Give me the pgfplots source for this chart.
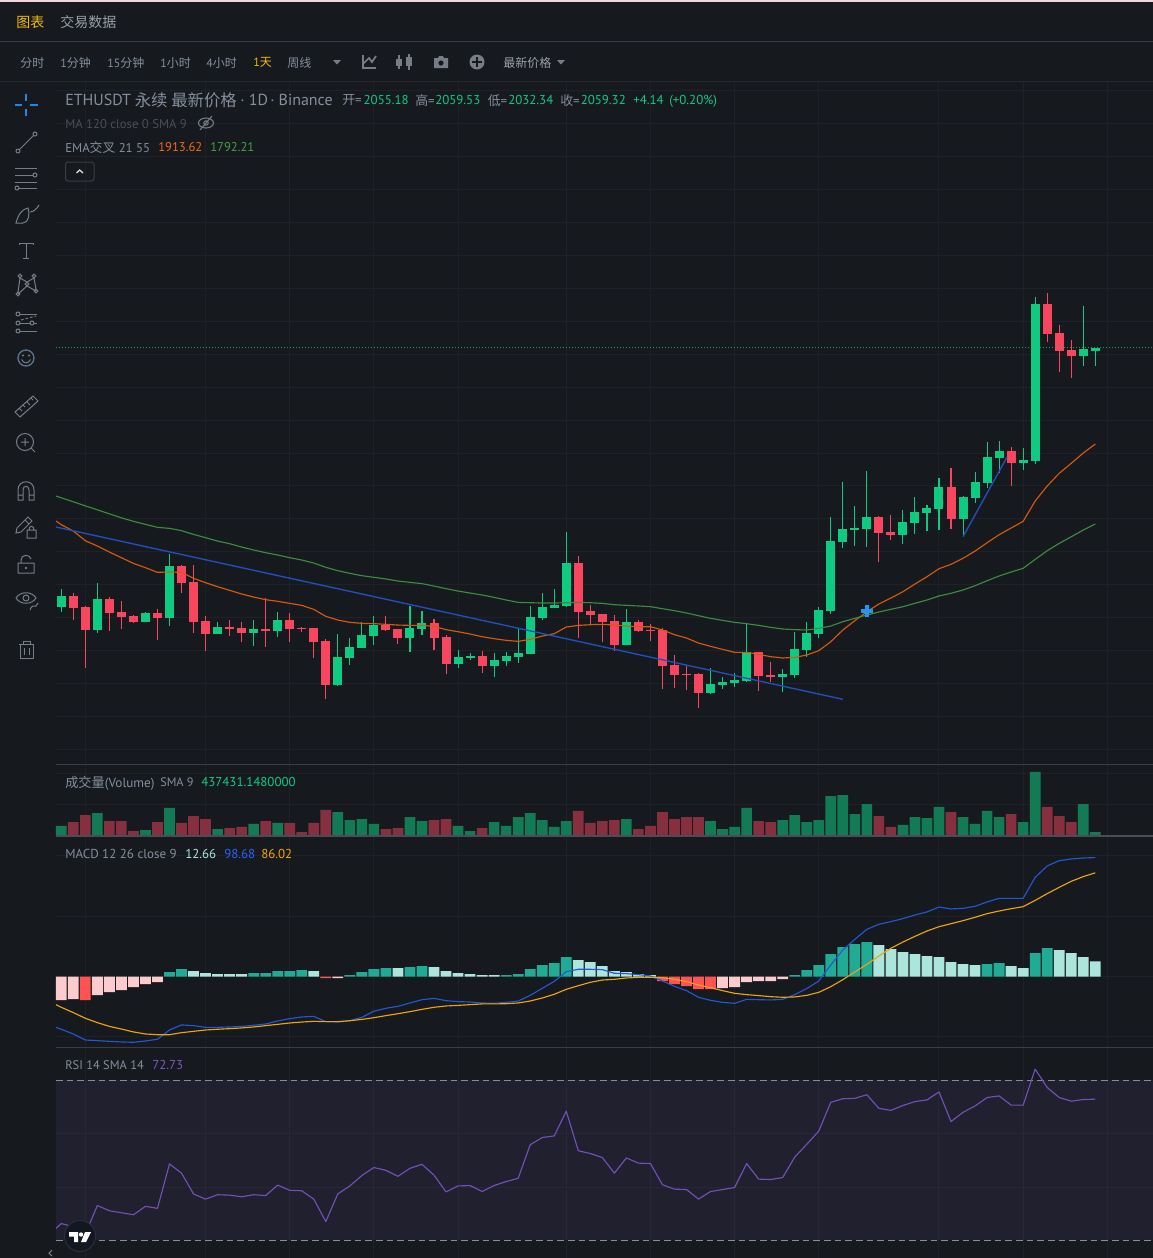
\documentclass[border=0pt]{standalone}
\usepackage{fontspec}
\usepackage{pgfplots}
\usepackage{pgfplotstable}
\pgfplotsset{compat=1.18}
\setmainfont{PT Sans}
\newfontfamily\cjk{Noto Sans CJK SC}
\definecolor{bg}{HTML}{161A1E}
\definecolor{gridc}{HTML}{1E2228}
\definecolor{sepc}{HTML}{3A3E44}
\definecolor{upc}{HTML}{0ECB81}
\definecolor{dnc}{HTML}{F9465F}
\definecolor{volup}{HTML}{137A56}
\definecolor{voldn}{HTML}{86303F}
\definecolor{histA}{HTML}{22AB94}
\definecolor{histB}{HTML}{ACE5DC}
\definecolor{histC}{HTML}{FF5252}
\definecolor{histD}{HTML}{FCCBCD}
\definecolor{emaO}{HTML}{D9590B}
\definecolor{emaG}{HTML}{3C8B3F}
\definecolor{trend}{HTML}{2150BE}
\definecolor{macdB}{HTML}{2257D6}
\definecolor{macdO}{HTML}{EFA30C}
\definecolor{rsiP}{HTML}{7350B8}
\definecolor{rsiB}{HTML}{7E57C2}
\definecolor{txt}{HTML}{848E9C}
\definecolor{txtB}{HTML}{9AA0A8}
\definecolor{yel}{HTML}{F0B90B}
\definecolor{icon}{HTML}{787C84}
\definecolor{pinkt}{HTML}{F5D3DA}
\definecolor{sepd}{HTML}{23272D}
\definecolor{sepb}{HTML}{4A4E54}
\definecolor{dimt}{HTML}{4A4E55}
\definecolor{ora}{HTML}{F26A1B}
\definecolor{grn}{HTML}{43A047}
\definecolor{chev}{HTML}{D0D3D8}
\definecolor{blu}{HTML}{2962FF}
\definecolor{amb}{HTML}{F7A600}
\definecolor{logoa}{HTML}{131722}
\definecolor{logob}{HTML}{2A2E39}
\definecolor{curs}{HTML}{1E88E5}
\definecolor{smile}{HTML}{5E7290}
\definecolor{crossc}{HTML}{2196F3}
\pgfplotstableread{
i o h l c
0 1666.3 1693.6 1658.7 1683.0
3 1631.4 1702.7 1626.8 1678.4
7 1643.5 1658.7 1643.5 1657.2
9 1649.6 1746.7 1637.4 1728.5
13 1625.3 1643.5 1625.3 1635.9
16 1626.8 1646.5 1607.1 1632.9
18 1629.8 1658.7 1620.7 1646.5
23 1547.9 1625.3 1546.4 1590.4
24 1588.9 1619.2 1578.2 1605.6
25 1604.0 1643.5 1604.0 1623.8
26 1622.2 1652.6 1608.6 1638.9
29 1619.2 1667.8 1598.0 1634.4
30 1632.9 1660.2 1623.8 1642.0
33 1579.8 1601.0 1573.7 1590.4
34 1588.9 1596.4 1585.8 1591.9
36 1576.7 1596.4 1560.0 1585.8
37 1584.3 1598.0 1576.7 1591.9
38 1590.4 1632.9 1581.3 1596.4
39 1594.9 1667.8 1594.9 1651.1
40 1649.6 1687.5 1646.5 1666.3
41 1664.7 1693.6 1664.7 1669.3
42 1667.8 1780.1 1666.3 1733.0
47 1608.6 1663.2 1608.6 1643.5
54 1535.7 1573.7 1534.2 1549.4
55 1547.9 1560.0 1541.8 1552.4
56 1550.9 1566.1 1544.8 1555.5
57 1554.0 1640.5 1552.4 1598.0
60 1560.0 1572.2 1537.3 1564.6
61 1563.1 1628.3 1558.5 1602.5
62 1601.0 1643.5 1590.4 1626.8
63 1625.3 1666.3 1619.2 1661.7
64 1660.1 1802.8 1655.6 1766.4
65 1764.9 1855.9 1755.8 1784.6
66 1783.1 1819.5 1758.8 1786.1
67 1784.6 1872.6 1757.3 1802.8
70 1775.5 1813.4 1761.8 1795.2
71 1793.7 1833.2 1777.0 1810.4
72 1808.9 1821.0 1781.6 1816.5
73 1814.9 1862.0 1783.1 1848.3
75 1799.8 1834.7 1772.5 1833.2
76 1831.6 1871.1 1824.1 1855.9
77 1854.4 1916.6 1846.8 1893.9
78 1892.3 1918.2 1869.6 1903.0
80 1884.8 1907.5 1874.1 1889.3
81 1887.8 2136.7 1883.2 2126.1
85 2047.2 2123.0 2032.0 2057.8
86 2055.18 2059.53 2032.34 2059.32
}\upcandles
\pgfplotstableread{
i o h l c
1 1683.0 1687.5 1646.5 1664.7
2 1666.3 1667.8 1573.7 1631.4
4 1678.4 1681.4 1629.8 1657.2
5 1658.7 1675.4 1632.9 1651.1
6 1652.6 1654.1 1642.0 1643.5
8 1657.2 1663.2 1616.2 1649.6
10 1728.5 1730.0 1687.5 1702.7
11 1704.2 1730.0 1626.8 1643.5
12 1645.0 1652.6 1599.5 1625.3
14 1635.9 1646.5 1622.2 1632.9
15 1634.4 1643.5 1613.1 1626.8
17 1632.9 1679.9 1605.6 1629.8
19 1646.5 1657.2 1613.1 1632.9
20 1634.4 1635.9 1628.3 1632.9
21 1634.4 1634.4 1588.9 1613.1
22 1614.7 1617.7 1526.6 1547.9
27 1638.9 1652.6 1629.8 1631.4
28 1632.9 1632.9 1610.1 1619.2
31 1642.0 1648.0 1601.0 1619.2
32 1620.7 1623.8 1564.6 1579.8
35 1591.9 1599.5 1566.1 1576.7
43 1733.0 1743.7 1619.2 1658.7
44 1660.2 1669.3 1640.5 1654.1
45 1655.6 1655.6 1613.1 1643.5
46 1645.0 1654.1 1599.5 1608.6
48 1643.5 1646.5 1628.3 1629.8
49 1631.4 1640.5 1614.7 1629.8
50 1631.4 1634.4 1541.8 1576.7
51 1578.2 1593.4 1543.3 1563.1
52 1564.6 1576.7 1540.3 1563.1
53 1564.6 1566.1 1513.0 1535.7
58 1598.0 1598.0 1538.8 1561.5
59 1563.1 1582.8 1552.4 1560.0
68 1802.8 1804.3 1734.5 1778.5
69 1780.0 1805.8 1767.9 1775.5
74 1848.3 1877.2 1784.6 1799.8
79 1903.0 1909.0 1849.9 1884.8
82 2126.1 2142.8 2068.4 2080.5
83 2082.1 2094.2 2022.9 2054.7
84 2056.3 2071.4 2013.8 2047.2
}\downcandles
\pgfplotstableread{
i e21 e55 macd sig rsi
-0.44 1796.8 1834.7 -42.0 -23.2 33.0
0 1791.2 1832.0 -43.6 -25.4 34.2
1 1781.6 1825.9 -47.5 -29.8 33.4
2 1766.9 1819.8 -52.5 -34.5 31.6
3 1758.8 1813.8 -53.0 -38.1 38.7
4 1749.7 1807.7 -53.6 -41.2 37.4
5 1741.1 1801.6 -54.1 -43.4 36.9
6 1732.5 1796.3 -54.4 -45.8 36.4
7 1726.0 1791.7 -53.3 -47.5 38.5
8 1718.9 1787.2 -51.9 -48.1 38.0
9 1719.4 1785.6 -44.2 -48.1 49.1
10 1718.9 1782.1 -40.0 -46.4 46.8
11 1709.8 1776.5 -40.6 -45.3 41.6
12 1703.2 1771.5 -42.0 -44.2 40.3
13 1697.1 1766.4 -42.0 -43.6 41.4
14 1691.6 1762.4 -41.7 -43.1 41.3
15 1686.0 1757.3 -41.2 -42.5 40.9
16 1681.4 1752.8 -40.3 -41.7 41.4
17 1677.4 1748.7 -39.2 -40.6 41.2
18 1674.9 1745.2 -36.7 -39.5 43.8
19 1671.8 1741.1 -34.8 -38.4 42.5
20 1668.8 1737.6 -33.4 -37.6 42.4
21 1662.7 1733.0 -32.9 -37.0 40.3
22 1652.1 1726.5 -37.3 -37.3 34.7
23 1646.5 1721.4 -37.6 -37.3 41.6
24 1643.0 1717.4 -36.5 -36.5 43.6
25 1641.5 1713.8 -33.7 -35.4 46.2
26 1641.0 1711.3 -28.7 -34.0 48.2
27 1640.0 1708.8 -26.2 -32.3 47.5
28 1638.9 1705.7 -24.6 -30.7 46.0
29 1638.4 1703.7 -21.8 -29.0 48.0
30 1638.4 1701.7 -19.1 -27.1 49.0
31 1636.9 1698.1 -18.0 -25.4 46.3
32 1631.9 1694.1 -19.9 -24.3 42.1
33 1628.8 1690.5 -20.7 -23.8 43.6
34 1625.3 1687.5 -21.0 -23.2 43.7
35 1621.2 1684.5 -21.8 -22.6 42.2
36 1618.2 1680.9 -22.1 -22.6 43.7
37 1615.7 1676.9 -21.3 -22.4 44.7
38 1614.1 1673.3 -20.2 -21.8 45.5
39 1617.2 1672.8 -15.5 -20.2 53.9
40 1622.2 1672.3 -9.7 -17.7 55.7
41 1625.8 1672.3 -3.9 -14.6 56.1
42 1635.9 1672.8 4.1 -10.5 62.3
43 1638.4 1673.3 6.1 -7.5 52.4
44 1639.4 1672.8 6.1 -4.7 51.7
45 1640.0 1671.8 5.8 -2.8 50.7
46 1638.9 1669.8 2.8 -2.2 46.8
47 1637.4 1668.8 2.5 -1.1 50.6
48 1636.4 1667.8 1.7 -0.6 49.3
49 1636.4 1666.8 0.6 -0.6 49.2
50 1631.4 1663.7 -3.6 -0.8 43.9
51 1624.3 1660.7 -8.0 -2.2 42.8
52 1619.2 1657.2 -11.6 -4.1 42.7
53 1611.6 1653.1 -17.1 -6.9 40.3
54 1606.6 1649.1 -19.6 -9.1 42.2
55 1602.0 1646.0 -21.3 -11.6 42.7
56 1597.5 1643.0 -22.1 -13.8 43.2
57 1597.5 1641.0 -18.8 -14.9 49.2
58 1594.4 1638.4 -19.1 -15.7 45.3
59 1590.9 1635.4 -19.3 -16.6 45.2
60 1588.9 1632.9 -18.8 -17.1 45.7
61 1589.9 1631.9 -14.9 -16.8 50.8
62 1593.4 1631.4 -9.9 -15.5 54.0
63 1600.0 1633.9 -3.6 -13.0 57.3
64 1613.6 1637.4 9.7 -8.3 64.5
65 1631.3 1644.0 22.1 -2.5 65.4
66 1645.5 1649.1 30.9 3.9 65.5
67 1659.1 1654.1 39.2 10.2 66.4
68 1670.8 1658.7 43.4 17.1 63.0
69 1679.9 1662.8 45.6 23.5 62.5
70 1689.5 1666.7 48.1 28.7 63.7
71 1701.2 1671.9 51.1 33.4 64.7
72 1712.2 1676.9 53.6 37.8 65.1
73 1724.4 1683.0 57.7 41.4 67.1
74 1731.1 1687.1 56.1 43.9 59.7
75 1740.2 1692.1 56.6 46.4 62.0
76 1751.2 1698.6 58.3 49.2 63.6
77 1763.8 1706.2 61.9 52.2 65.7
78 1776.0 1713.3 64.9 54.4 66.1
79 1786.2 1719.4 64.9 56.3 63.8
80 1796.3 1725.0 64.9 58.0 63.8
81 1827.1 1738.6 82.3 63.2 72.8
82 1849.9 1751.7 91.7 68.8 68.2
83 1869.2 1762.9 96.1 74.0 65.7
84 1884.3 1772.9 97.5 79.0 64.8
85 1900.0 1783.1 98.3 82.9 65.2
86 1913.62 1792.21 98.68 86.02 65.3
}\lines
\pgfplotsset{pane/.style={
  scale only axis, width=822.75pt, xmin=-0.44, xmax=90.80,
  axis line style={draw=none}, tick style={draw=none},
  xticklabels={}, yticklabels={}, grid=major,
  major grid style={color=gridc,line width=.75pt},
  xtick={2,12,19,26,33,42,49,56,63,73,80,87},
  anchor=north west, clip=true},
  xl/.style={line width=.85pt,line join=round},
  wick/.style={draw=none,mark=none,forget plot,
    error bars/.cd,y dir=plus,y explicit,error mark=none,error bar style={line width=.8pt,solid,draw=#1}},
  body/.style={draw=none,mark=none,forget plot,
    error bars/.cd,y dir=plus,y explicit,error mark=none,error bar style={line width=6.75pt,solid,draw=#1}},
  vbar/.style={ybar,bar width=8pt,bar shift=0pt,draw=none,fill=#1,forget plot},
  hbar/.style={ybar,bar width=8.1pt,bar shift=0pt,draw=none,fill=#1,forget plot}}
\newcommand\T[5]{\node[anchor=west,inner sep=0pt,text=#3,font=\fontsize{#4}{#4}\selectfont] at (#1,{#2+1.8}) {\strut #5};}
\begin{document}
\begin{tikzpicture}
\path[use as bounding box] (0,0) rectangle (864.75pt,-943.5pt);
\fill[bg] (0,0) rectangle (864.75pt,-943.5pt);
\fill[pinkt] (0,0) rectangle (864.75pt,-1.2pt);
% main pane
\begin{axis}[pane,at={(42pt,-61.5pt)},height=511.5pt,ymin=1428,ymax=2463.05,ytick={1450,1500,...,2450}]
\addplot[wick=upc] table[x=i,y=l,y error plus expr=\thisrow{h}-\thisrow{l}]{\upcandles};
\addplot[wick=dnc] table[x=i,y=l,y error plus expr=\thisrow{h}-\thisrow{l}]{\downcandles};
\addplot[body=upc] table[x=i,y=o,y error plus expr=\thisrow{c}-\thisrow{o}]{\upcandles};
\addplot[body=dnc] table[x=i,y=c,y error plus expr=\thisrow{o}-\thisrow{c}]{\downcandles};
\addplot[xl,emaO] table[x=i,y=e21]{\lines};
\addplot[xl,emaG] table[x=i,y=e55]{\lines};
\addplot[line width=1pt,trend] coordinates {(-0.44,1787.7)(65.0,1526.2)};
\addplot[line width=1pt,trend] coordinates {(75.0,1773.0)(78.66,1893.9)};
\addplot[upc,opacity=.75,line width=.75pt,dash pattern=on .75pt off 1.5pt] coordinates {(-0.44,2059.6)(90.8,2059.6)};
\addplot[only marks,mark=+,mark size=4.5pt,color=crossc,mark options={line width=3pt}] coordinates {(67.0,1660.2)};
\end{axis}
% volume pane
\begin{axis}[pane,at={(42pt,-573.75pt)},height=53.25pt,ymin=0,ymax=1282,ytick={572,1132}]
\addplot[vbar=volup] coordinates {(0,181)(3,415)(7,108)(9,506)(13,126)(16,217)(18,235)(23,433)(24,289)(25,307)(26,217)(29,343)(30,271)(33,181)(34,90)(36,253)(37,181)(38,343)(39,415)(40,289)(41,163)(42,271)(47,307)(54,271)(55,126)(56,163)(57,506)(60,289)(61,379)(62,253)(63,289)(64,722)(65,740)(66,397)(67,578)(70,199)(71,343)(72,325)(73,524)(75,343)(76,217)(77,452)(78,343)(80,253)(81,1156)(85,578)(86,72)};
\addplot[vbar=voldn] coordinates {(1,253)(2,379)(4,271)(5,271)(6,90)(8,253)(10,235)(11,361)(12,307)(14,144)(15,163)(17,271)(19,235)(20,72)(21,235)(22,470)(27,126)(28,144)(31,289)(32,307)(35,144)(43,452)(44,235)(45,271)(46,289)(48,126)(49,181)(50,433)(51,307)(52,343)(53,343)(58,271)(59,253)(68,361)(69,163)(74,433)(79,397)(82,524)(83,361)(84,253)};
\end{axis}
% MACD pane
\begin{axis}[pane,at={(42pt,-627.75pt)},height=157.5pt,ymin=-58.3,ymax=115.7,ytick={-50,0,50,100}]
\addplot[hbar=histA] coordinates {(9,3.7)(10,6.2)(16,2.9)(17,2.9)(18,4.6)(19,4.6)(20,5.4)(24,1.2)(25,3.7)(26,6.2)(27,7.0)(29,7.9)(30,8.7)(37,1.2)(38,2.1)(39,6.2)(40,9.5)(41,11.2)(42,16.2)(61,1.2)(62,5.4)(63,9.5)(64,18.6)(65,24.4)(66,26.9)(67,28.6)(77,10.4)(78,11.2)(81,19.5)(82,23.6)};
\addplot[hbar=histB] coordinates {(11,4.6)(12,2.9)(13,2.1)(14,2.1)(15,2.1)(21,4.6)(28,7.0)(31,7.9)(32,4.6)(33,2.9)(34,2.1)(35,1.2)(36,1.2)(43,13.7)(44,12.0)(45,8.7)(46,4.6)(47,3.7)(48,2.1)(49,1.2)(68,26.1)(69,22.8)(70,20.3)(71,18.6)(72,17.0)(73,16.2)(74,12.0)(75,10.4)(76,9.5)(79,8.7)(80,7.0)(83,22.0)(84,19.5)(85,16.2)(86,12.66)};
\addplot[hbar=histC] coordinates {(2,-19.5)(22,-1.2)(50,-3.7)(51,-6.2)(52,-7.9)(53,-10.4)(54,-10.4)};
\addplot[hbar=histD] coordinates {(0,-19.5)(1,-18.6)(3,-15.3)(4,-12.8)(5,-11.2)(6,-8.7)(7,-6.2)(8,-4.6)(23,-1.2)(55,-9.5)(56,-8.7)(57,-4.6)(58,-3.7)(59,-3.7)(60,-2.1)};
\addplot[xl,macdB] table[x=i,y=macd]{\lines};
\addplot[xl,macdO] table[x=i,y=sig]{\lines};
\end{axis}
% RSI pane
\begin{axis}[pane,at={(42pt,-786pt)},height=157.5pt,ymin=25.58,ymax=78.08,ytick={43.33,56.67}]
\addplot[fill=rsiB,fill opacity=.1,draw=none] coordinates {(-0.44,30)(90.8,30)(90.8,70)(-0.44,70)} -- cycle;
\addplot[color=txt,line width=.75pt,dash pattern=on 5pt off 3pt] coordinates {(-0.44,70)(90.8,70)};
\addplot[color=txt,line width=.75pt,dash pattern=on 5pt off 3pt] coordinates {(-0.44,30)(90.8,30)};
\addplot[xl,rsiP] table[x=i,y=rsi]{\lines};
\end{axis}
\begin{scope}[x=.75pt,y=-.75pt]
% separators
\draw[sepc,line width=.75pt] (0,41) -- (1153,41);
\draw[sepd,line width=.75pt] (0,81) -- (1153,81);
\draw[sepc,line width=.75pt] (56,764.5) -- (1153,764.5);
\draw[sepb,line width=.9pt] (56,836) -- (1153,836);
\draw[sepc,line width=.75pt] (56,1047.5) -- (1153,1047.5);
% header texts
\T{16}{22}{yel}{10.5pt}{\cjk 图表}
\T{60}{22}{txtB}{10.5pt}{\cjk 交易数据}
\T{20}{62}{txt}{9pt}{\cjk 分时}
\T{60}{62}{txt}{9pt}{1{\cjk 分钟}}
\T{107}{62}{txt}{9pt}{15{\cjk 分钟}}
\T{160}{62}{txt}{9pt}{1{\cjk 小时}}
\T{206}{62}{txt}{9pt}{4{\cjk 小时}}
\T{253}{62}{yel}{9pt}{1{\cjk 天}}
\T{287}{62}{txt}{9pt}{\cjk 周线}
\T{503}{62}{txtB}{9pt}{\cjk 最新价格}
\fill[icon] (333,60) -- (341,60) -- (337,64.5) -- cycle;
\fill[icon] (557,60) -- (565,60) -- (561,64.5) -- cycle;
% toolbar icons
\draw[icon,line width=1.3pt] (363,55) -- (363,68) -- (376,68);
\draw[icon,line width=1.3pt] (363,64) -- (369,58) -- (372,62) -- (376,56);
\fill[icon] (396,59) rectangle (402,66); \fill[icon] (406,57) rectangle (412,66);
\draw[icon,line width=1pt] (399,55) -- (399,69) (409,54) -- (409,70);
\fill[icon] (434,58) -- (438,58) -- (439,56) -- (443,56) -- (444,58) -- (448,58) -- (448,68) -- (434,68) -- cycle;
\fill[bg] (441,63) circle[radius=2.6];
\fill[icon] (477,62) circle[radius=7.5];
\fill[bg] (472,60.8) rectangle (482,63.2); \fill[bg] (475.8,57) rectangle (478.2,67);
% legend
\T{65}{100}{txt}{12pt}{ETHUSDT}
\T{134.5}{100}{txt}{12.3pt}{\cjk 永续}
\T{171}{100}{txt}{12.3pt}{\cjk 最新价格}
\T{240}{100}{txt}{12pt}{·}
\T{248.7}{100}{txt}{12pt}{1D}
\T{270}{100}{txt}{12pt}{·}
\T{278.4}{100}{txt}{12pt}{Binance}
\T{342}{100}{txt}{9.7pt}{{\cjk 开}=}
\T{363.4}{100}{upc}{9.7pt}{2055.18}
\T{415}{100}{txt}{9.7pt}{{\cjk 高}=}
\T{435}{100}{upc}{9.7pt}{2059.53}
\T{487.5}{100}{txt}{9.7pt}{{\cjk 低}=}
\T{508}{100}{upc}{9.7pt}{2032.34}
\T{560}{100}{txt}{9.7pt}{{\cjk 收}=}
\T{580.5}{100}{upc}{9.7pt}{2059.32}
\T{633}{100}{upc}{9.7pt}{+4.14}
\T{669}{100}{upc}{9.7pt}{(+0.20\%)}
\T{65}{124}{dimt}{9.55pt}{MA 120 close 0 SMA 9}
\T{65}{147}{txt}{9.6pt}{EMA{\cjk 交叉} 21 55}
\T{158}{147}{ora}{9.5pt}{1913.62}
\T{210}{147}{grn}{9.5pt}{1792.21}
\draw[icon,line width=.8pt] (206,123) ellipse[x radius=7.5,y radius=5]; \draw[icon,line width=.8pt] (206,123) circle[radius=2.2]; \draw[icon,line width=.8pt] (200,130) -- (212,116);
\draw[sepc,line width=.75pt,rounded corners=2pt] (65.5,162) rectangle (94,181);
\draw[chev,line width=1pt] (76.5,173) -- (79.7,170) -- (83,173);
\T{65}{782}{txt}{9.9pt}{{\cjk 成交量}(Volume)}
\T{160}{782}{txt}{9.2pt}{SMA 9}
\T{201}{782}{upc}{9.7pt}{437431.1480000}
\T{65}{854}{txt}{9.75pt}{MACD 12 26 close 9}
\T{185}{854}{histB}{9.7pt}{12.66}
\T{224}{854}{blu}{9.7pt}{98.68}
\T{261}{854}{amb}{9.7pt}{86.02}
\T{65}{1065}{txt}{9.35pt}{RSI 14 SMA 14}
\T{152}{1065}{rsiB}{9.7pt}{72.73}
% logo
\fill[logoa] (80,1236) circle[radius=15.5]; \draw[logob,line width=.75pt] (80,1236) circle[radius=15.5];
\fill[white] (69,1232) -- (78,1232) -- (78,1242) -- (74,1242) -- (74,1236.5) -- (69,1236.5) -- cycle;
\fill[white] (81,1234.5) circle[radius=2.2];
\fill[white] (85,1232) -- (91,1232) -- (86,1242) -- (81,1242) -- cycle;
\draw[icon,line width=.8pt] (52,1250) -- (49,1253) -- (52,1256);
% sidebar icons
\draw[curs,line width=1pt] (15,105) -- (22,105) (30,105) -- (38,105) (26,94) -- (26,101) (26,109) -- (26,116);
\begin{scope}[icon,line width=.75pt]
\draw (18,151) circle[radius=2] (35,134) circle[radius=2] (19.5,149.5) -- (33.5,135.5);
\draw (15,168) -- (37,168) (15,175) -- (33,175) (15,182) -- (37,182) (19,188) -- (37,188);
\draw (35,175) circle[radius=2] (17,188) circle[radius=2];
\draw (16,223) .. controls (18,215) and (22,209) .. (28,208) .. controls (30,213) and (29,223) .. (23,223) -- cycle;
\draw (30,212) .. controls (33,212) and (37,209) .. (39,205);
\draw (19,243) -- (33,243) (19,243) -- (19,245) (33,243) -- (33,245) (26,243) -- (26,258) (23,258) -- (29,258);
\draw (20,276) circle[radius=1.9] (34,276) circle[radius=1.9] (18,294) circle[radius=1.9] (36,291) circle[radius=1.9] (27,284) circle[radius=1.9];
\draw (20,278) -- (18,292) (20,278) -- (27,282) (34,278) -- (27,282) (34,278) -- (36,289) (27,286) -- (18,294) (27,286) -- (36,291);
\draw (18,314) circle[radius=2] (18,323) circle[radius=2] (18,331) circle[radius=2] (32,323) circle[radius=2];
\draw (20,314) -- (37,314) (20,323) -- (30,323) (34,323) -- (37,323) (20,331) -- (37,331);
\draw[dash pattern=on 2pt off 1.5pt] (21,320) -- (36,316);
\draw[smile,line width=1pt] (26,358) circle[radius=8];
\fill (23,355.5) circle[radius=1.2] (29,355.5) circle[radius=1.2];
\draw (21.5,359.5) .. controls (24,364) and (28,364) .. (30.5,359.5);
\draw (15,412) -- (33,396) -- (38,401) -- (20,417) -- cycle (19,408) -- (22,411) (23,405) -- (25,407) (27,402) -- (30,405) (31,398) -- (33,400);
\draw (25,442) circle[radius=8.5] (21,442) -- (29,442) (25,438) -- (25,446) (31,448) -- (35,452);
\draw (18,500) -- (18,490) .. controls (18,479) and (34,479) .. (34,490) -- (34,500) -- (29,500) -- (29,490) .. controls (29,485) and (23,485) .. (23,490) -- (23,500) -- cycle (18,495) -- (23,495) (29,495) -- (34,495);
\draw (16,533) -- (17,528) -- (28,517) -- (32,521) -- (21,532) -- cycle (25,520) -- (29,524);
\draw (27,530) rectangle (36,538) (29,530) .. controls (29,525) and (34,525) .. (34,530);
\draw (18,563) rectangle (34,573) (21,563) -- (21,560) .. controls (21,554) and (30,554) .. (31,559);
\fill (26,568) circle[radius=1.3];
\draw (16,598) .. controls (20,591) and (32,591) .. (36,598) .. controls (32,605) and (20,605) .. (16,598) (26,598) circle[radius=3];
\draw (30,610) .. controls (31,606) and (34,605) .. (36,606) (36,606) -- (38,603);
\draw (19,644) -- (34,644) (23,644) -- (23,641) -- (30,641) -- (30,644) (20,644) -- (20,658) -- (33,658) -- (33,644) (24,648) -- (24,655) (29,648) -- (29,655);
\end{scope}
\end{scope}
\end{tikzpicture}
\end{document}
